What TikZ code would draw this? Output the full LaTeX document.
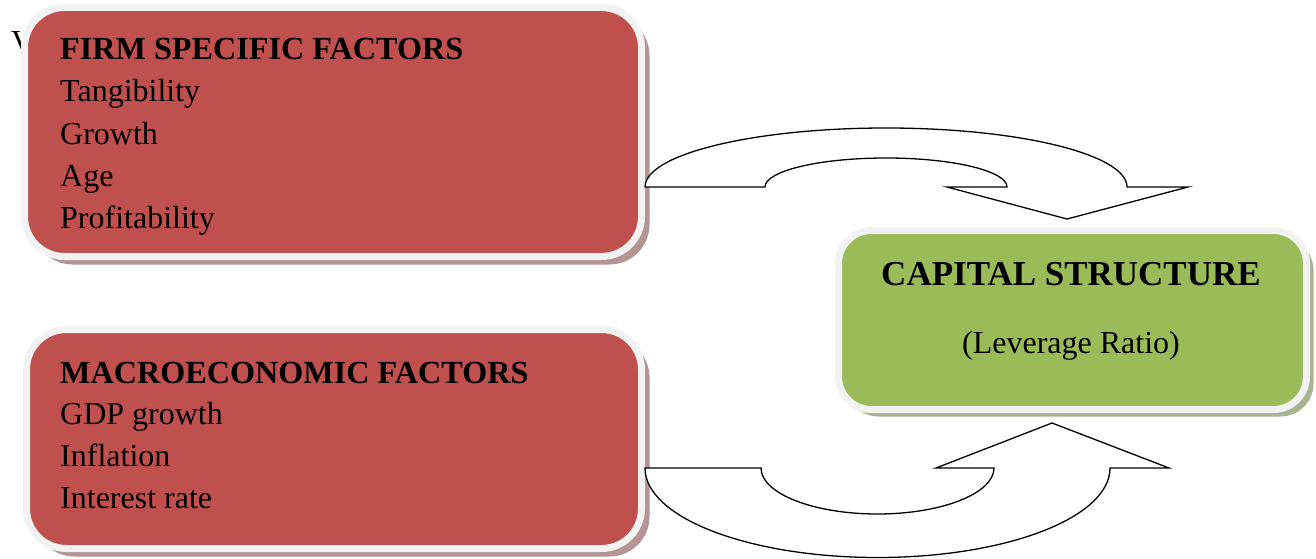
\documentclass[tikz,border=0pt]{standalone}
\usepackage{fontspec}
\setmainfont{Liberation Serif}
\usetikzlibrary{shadows}
\definecolor{boxred}{HTML}{C0504D}
\definecolor{boxgreen}{HTML}{9BBB59}
\definecolor{rimgray}{HTML}{F2F2F2}
\definecolor{redshadow}{HTML}{B49494}
\definecolor{greenshadow}{HTML}{A6B491}
\tikzset{
  panel/.style={draw=rimgray, line width=7pt, rounded corners=40pt, inner sep=0pt},
  redpanel/.style={panel, fill=boxred,
    drop shadow={shadow xshift=8pt, shadow yshift=-8pt, fill=redshadow, opacity=1}},
  greenpanel/.style={panel, fill=boxgreen, rounded corners=33pt,
    drop shadow={shadow xshift=7pt, shadow yshift=-7pt, fill=greenshadow, opacity=1}},
  txt/.style={anchor=base west, inner sep=0pt, font=\fontsize{32}{42}\selectfont},
  head/.style={txt, font=\fontsize{32.2}{42}\selectfont\bfseries},
  ctxt/.style={anchor=base, inner sep=0pt},
  blockarrow/.style={draw=black, fill=white, line width=1.3pt, line join=miter}
}
\begin{document}
\begin{tikzpicture}[x=1pt,y=-1pt]
\useasboundingbox (0,0) rectangle (1316,559);

% partly hidden letter behind the first box
\node[txt] (v) at (11,53) {V};

% boxes
\node[redpanel, minimum width=617pt, minimum height=249pt] (firm) at (333,132) {};
\node[redpanel, minimum width=615pt, minimum height=219pt] (macro) at (334,439) {};
\node[greenpanel, minimum width=468pt, minimum height=179pt] (cap) at (1072.5,320) {};

% firm specific text
\node[head] (fh) at (60,60) {FIRM SPECIFIC FACTORS};
\node[txt] (f1) at (60,102) {Tangibility};
\node[txt] (f2) at (60,144) {Growth};
\node[txt] (f3) at (60,186) {Age};
\node[txt] (f4) at (60,228) {Profitability};

% macro text
\node[head] (mh) at (60,383) {MACROECONOMIC FACTORS};
\node[txt] (m1) at (60,424) {GDP growth};
\node[txt] (m2) at (60,466) {Inflation};
\node[txt] (m3) at (60,508) {Interest rate};

% capital structure text
\node[ctxt, font=\fontsize{35}{40}\selectfont\bfseries] (ch) at (1071,285) {CAPITAL STRUCTURE};
\node[ctxt, font=\fontsize{32}{40}\selectfont] (cl) at (1071,353) {(Leverage Ratio)};

% top curved block arrow
\draw[blockarrow] (645,187) -- (765,187)
  .. controls (765,171) and (819.2,158) .. (886,158)
  .. controls (952.8,158) and (1007,171) .. (1007,187)
  -- (947,187) -- (1067,219) -- (1188,187) -- (1127,187)
  .. controls (1127,154.4) and (1019.1,128) .. (886,128)
  .. controls (752.9,128) and (645,154.4) .. (645,187) -- cycle;

% bottom curved block arrow
\draw[blockarrow] (645,468) -- (761,468)
  .. controls (761,493.4) and (813.2,514) .. (877.5,514)
  .. controls (941.8,514) and (994,493.4) .. (994,468)
  -- (936,468) -- (1052,423) -- (1169,468) -- (1110,468)
  .. controls (1110,517.7) and (1005.9,557.5) .. (877.5,557.5)
  .. controls (749.1,557.5) and (645,517.7) .. (645,468) -- cycle;
\end{tikzpicture}
\end{document}
